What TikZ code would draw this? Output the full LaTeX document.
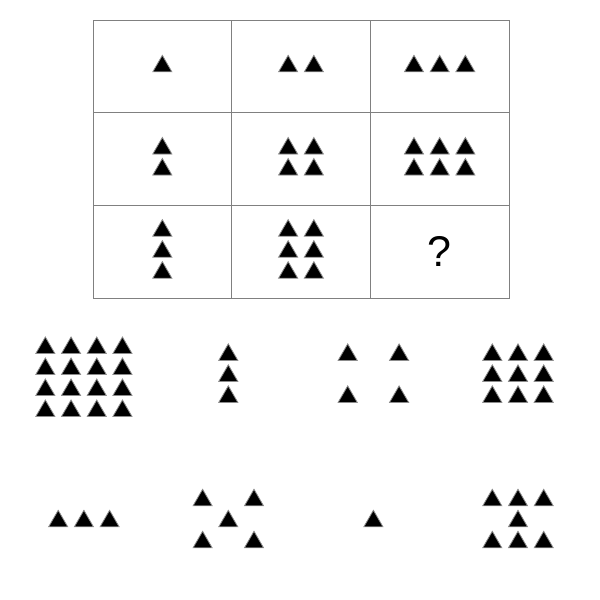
\documentclass[tikz,border=0pt]{standalone}
\usepackage{fontspec}
\setmainfont{Liberation Sans}
\usetikzlibrary{shapes.geometric}
\begin{document}
\begin{tikzpicture}[
		x=1pt, y=-1pt,
		cellbox/.style={rectangle,draw=black!50,line width=0.9pt,minimum width=138.67pt,minimum height=92.67pt,inner sep=0pt},
		tri/.style={regular polygon,regular polygon sides=3,minimum size=22pt,inner sep=0pt,fill=black,draw=black!45,line width=0.8pt},
		qmark/.style={font=\fontsize{43}{43}\selectfont,inner sep=0pt}
	]
	\useasboundingbox (0,0) rectangle (600,600);
	% the matrix
	\foreach \r in {1,2,3}
		\foreach \c in {1,2,3}
			\node[cellbox] (cell-\r-\c) at ({93+(\c-0.5)*138.67},{20+(\r-0.5)*92.67}) {};
	\foreach \r in {1,2,3}
		\foreach \c in {1,2,3} {
			\ifnum\r\c=33 \else
			\begin{scope}[shift={(cell-\r-\c.center)},x=25.7pt,y=-21pt]
				\foreach \i in {1,...,\c}
					\foreach \j in {1,...,\r}
						\node[tri] (t-\r-\c-\i-\j) at ({\i-(\c+1)/2},{\j-(\r+1)/2}) {};
			\end{scope}
			\fi
		}
	\node[qmark] (q) at (cell-3-3) {?};
	% the answers
	\foreach \k/\cx/\cy/\pts in {
			1/83.9/379.5/{(-1.5,-1.5),(-0.5,-1.5),(0.5,-1.5),(1.5,-1.5),(-1.5,-0.5),(-0.5,-0.5),(0.5,-0.5),(1.5,-0.5),(-1.5,0.5),(-0.5,0.5),(0.5,0.5),(1.5,0.5),(-1.5,1.5),(-0.5,1.5),(0.5,1.5),(1.5,1.5)},
			2/228.3/375.9/{(0,-1),(0,0),(0,1)},
			3/373.4/375.9/{(-1,-1),(1,-1),(-1,1),(1,1)},
			4/518/375.9/{(-1,-1),(0,-1),(1,-1),(-1,0),(0,0),(1,0),(-1,1),(0,1),(1,1)},
			5/83.9/521.3/{(-1,0),(0,0),(1,0)},
			6/228.3/521.3/{(-1,-1),(1,-1),(0,0),(-1,1),(1,1)},
			7/373.4/521.3/{(0,0)},
			8/518/521.3/{(-1,-1),(0,-1),(1,-1),(0,0),(-1,1),(0,1),(1,1)}} {
		\begin{scope}[shift={(\cx,\cy)},x=25.7pt,y=-21pt]
			\foreach \p [count=\n] in \pts
				\node[tri] (a-\k-\n) at \p {};
		\end{scope}
	}
\end{tikzpicture}
\end{document}
